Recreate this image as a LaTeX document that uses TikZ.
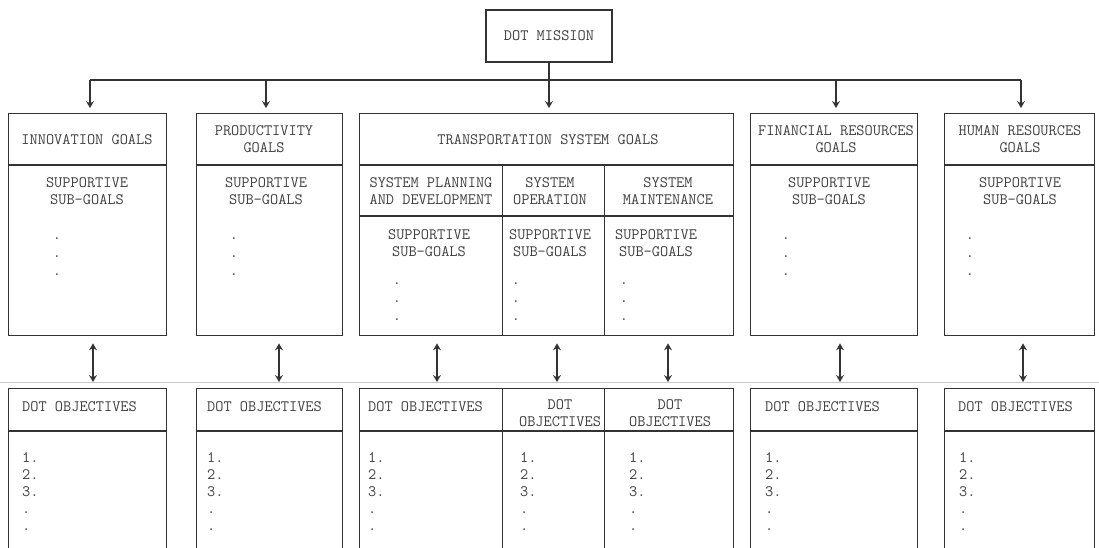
\documentclass[tikz,border=0pt]{standalone}
\usepackage{fontspec}
\usetikzlibrary{arrows.meta,positioning}

\begin{document}
\begin{tikzpicture}[
 x=1pt, y=-1pt,
 font=\ttfamily\fontsize{15.9}{17}\selectfont,
 box/.style={draw=black!80,line width=1.4pt,anchor=north west,inner sep=0pt},
 divider/.style={black!80,line width=1.4pt},
 fold/.style={black!22,line width=0.9pt},
 caption/.style={text=black!75,align=center,inner sep=0pt},
 entries/.style={text=black!75,align=left,anchor=north west,inner sep=0pt},
 dots/.style={text=black!75,align=center,anchor=north,inner sep=0pt},
 feed/.style={divider,-{Stealth[length=7pt,width=8pt,inset=2.5pt]},shorten >=5pt},
 link/.style={divider,{Stealth[length=7pt,width=8pt,inset=2.5pt]}-{Stealth[length=7pt,width=8pt,inset=2.5pt]},
   shorten <=7pt,shorten >=6pt},
]
\useasboundingbox (0,0) rectangle (1099,548);
\clip (0,0) rectangle (1099,548);

% Fold of the page
\draw[fold] (0,382) -- (1099,382);

% Mission
\node[box,anchor=center,minimum width=126pt,minimum height=52pt,text=black!75] (mission) at (549,36) {DOT MISSION};

% Goal boxes and objective boxes
\foreach \name/\x/\w in {innov/8/158, prod/196/146, trans/359/374, fin/750/167, human/944/150} {
    \node[box,minimum width=\w pt,minimum height=222pt] (\name) at (\x,113) {};
    \node[box,minimum width=\w pt,minimum height=200pt] (\name obj) at (\x,388) {};
    \draw[divider] (\x,165) -- +(\w,0);
    \draw[divider] (\x,431) -- +(\w,0);
}

% Transportation sub-columns
\foreach \name/\x/\w in {plan/359/143, oper/502/102, maint/604/129} {
    \node[box,minimum width=\w pt,minimum height=170pt] (\name) at (\x,165) {};
    \node[box,minimum width=\w pt,minimum height=200pt] (\name obj) at (\x,388) {};
}
\draw[divider] (plan.west |- 0,216) -- (maint.east |- 0,216);

% Goal titles
\node[caption] (innovtitle) at (87,140) {INNOVATION GOALS};
\node[caption] (prodtitle) at (264,139) {PRODUCTIVITY\\GOALS};
\node[caption] (transtitle) at (548,140) {TRANSPORTATION SYSTEM GOALS};
\node[caption] (fintitle) at (836,139) {FINANCIAL RESOURCES\\GOALS};
\node[caption] (humantitle) at (1020,139) {HUMAN RESOURCES\\GOALS};
\node[caption] (plantitle) at (431,191) {SYSTEM PLANNING\\AND DEVELOPMENT};
\node[caption] (opertitle) at (550,191) {SYSTEM\\OPERATION};
\node[caption] (mainttitle) at (668,191) {SYSTEM\\MAINTENANCE};

% Sub-goals
\foreach \name/\x/\y in {innov/87/191, prod/266/191, fin/829/191, human/1020/191, plan/429/243, oper/550/243, maint/656/243}
    \node[caption] (\name sub) at (\x,\y) {SUPPORTIVE\\SUB-GOALS};
\foreach \name/\x/\y in {innov/57/238, prod/234/238, fin/786/238, human/970/238, plan/397/283, oper/516/283, maint/624/283}
    \node[dots] (\name dots) at (\x,\y) {.\\[1pt].\\[1pt].};

% Objectives
\foreach \name/\x in {innov/22, prod/207, plan/368, fin/765, human/958}
    \node[caption,anchor=west] (\name objtitle) at (\x,407) {DOT OBJECTIVES};
\node[caption] (operobjtitle) at (560,413) {DOT\\OBJECTIVES};
\node[caption] (maintobjtitle) at (670,413) {DOT\\OBJECTIVES};
\foreach \name/\x in {innov/22, prod/207, plan/368, oper/520, maint/629, fin/765, human/959}
    \node[entries] (\name list) at (\x,452.5) {1.\\2.\\3.\\.\\.};

% Mission to goals
\coordinate (busleft) at (90,80);
\coordinate (busright) at (1021,80);
\draw[divider] (busleft) -- (busright);
\draw[feed] (mission) -- (mission |- trans.north);
\foreach \name/\x in {innov/90, prod/266, fin/836, human/1021} {
    \coordinate (\name feed) at (\x,80);
    \draw[feed] (\name feed) -- (\name feed |- \name.north);
}

% Goals to objectives
\foreach \name/\x in {innov/93, prod/279, plan/437, oper/557, maint/668, fin/840, human/1023}
    \draw[link] (\name.south -| \x,0) -- (\name obj.north -| \x,0);

\end{tikzpicture}
\end{document}
